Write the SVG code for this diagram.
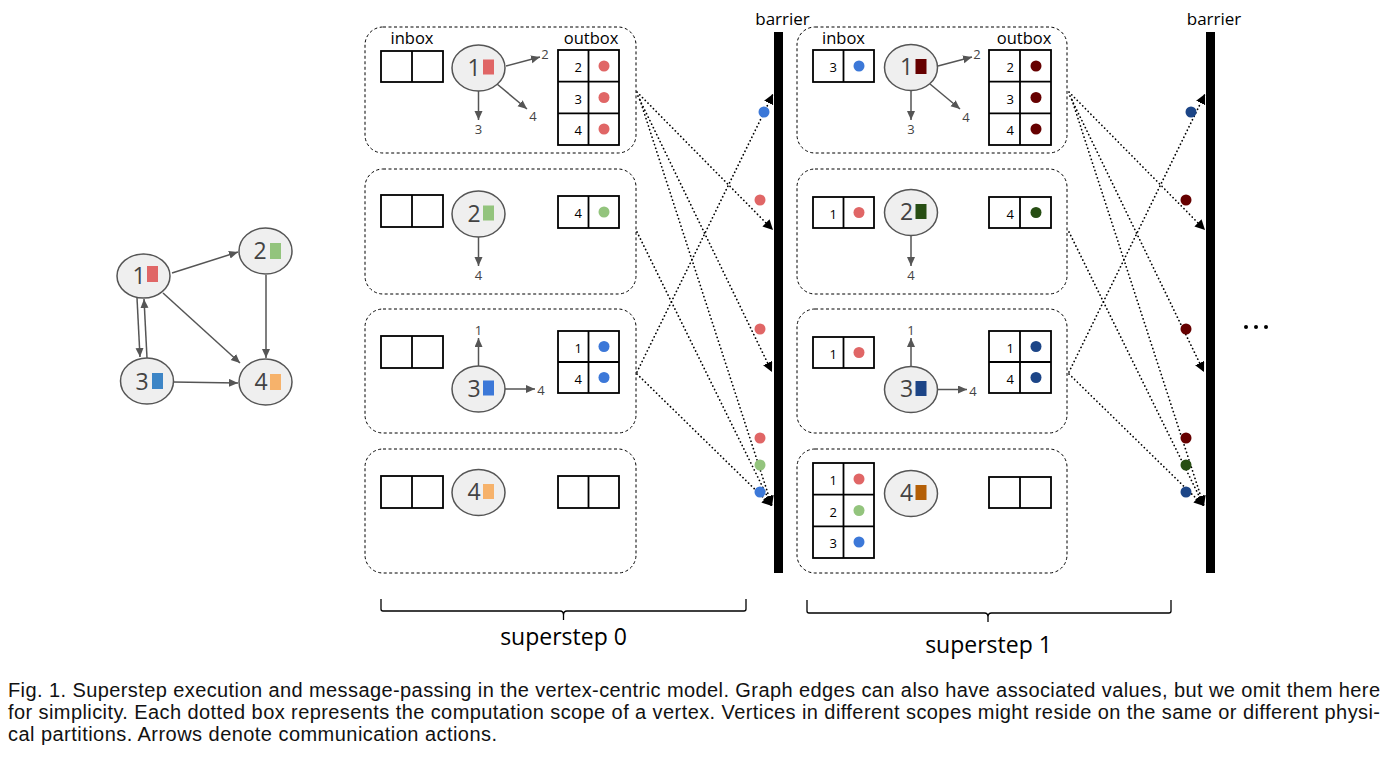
<svg xmlns="http://www.w3.org/2000/svg" width="1388" height="761" viewBox="0 0 1388 761">
<style>
.scope{fill:none;stroke:#000;stroke-width:1;stroke-dasharray:3 2.5}
.cell{fill:#fff;stroke:#000;stroke-width:1.8}
.div{stroke:#000;stroke-width:1.8}
.v{fill:#efefef;stroke:#555;stroke-width:1.5}
.vt{font-family:"Open Sans",sans-serif;font-size:23px;fill:#434343;text-anchor:middle}
.lbl{font-family:"Open Sans",sans-serif;font-size:16.5px;fill:#000;text-anchor:middle}
.sm{font-family:"Open Sans",sans-serif;font-size:13px;fill:#444;text-anchor:middle}
.num{font-family:"Open Sans",sans-serif;font-size:13px;fill:#000;text-anchor:end}
.edge{stroke:#555;stroke-width:1.5;fill:none;marker-end:url(#ga)}
.msg{stroke:#000;stroke-width:1.7;fill:none;stroke-dasharray:0.1 3.8;stroke-linecap:round;marker-end:url(#ba)}
.brace{stroke:#000;stroke-width:1.3;fill:none}
.cap{font-family:"Liberation Sans",Arial,sans-serif;font-size:20px;fill:#111}
.big{font-family:"Open Sans",sans-serif;font-size:23px;fill:#000;text-anchor:middle}
</style>
<defs>
<marker id="ga" markerUnits="userSpaceOnUse" markerWidth="10" markerHeight="10" refX="9" refY="4" orient="auto"><path d="M0,0 L9,4 L0,8 Z" fill="#555"/></marker>
<marker id="ba" markerUnits="userSpaceOnUse" markerWidth="12" markerHeight="12" refX="10" refY="5" orient="auto"><path d="M0,0 L10,5 L0,10 Z" fill="#000"/></marker>
</defs>
<rect width="1388" height="761" fill="#fff"/>

<!-- left graph -->
<g id="graph-edges">
<line class="edge" x1="172" y1="273" x2="238" y2="252"/>
<line class="edge" x1="266" y1="275" x2="266" y2="358"/>
<line class="edge" x1="163" y1="293" x2="240" y2="363"/>
<line class="edge" x1="137" y1="298" x2="140" y2="357"/>
<line class="edge" x1="147" y1="358" x2="144" y2="299"/>
<line class="edge" x1="173" y1="382" x2="238" y2="383"/>
</g>
<g id="g-n1"><ellipse class="v" cx="143.5" cy="276" rx="26.5" ry="22"/><text class="vt" x="139" y="284">1</text><rect x="147" y="266" width="11" height="16" fill="#e06666"/></g>
<g id="g-n2"><ellipse class="v" cx="265.5" cy="251" rx="26.5" ry="23"/><text class="vt" x="260" y="259">2</text><rect x="270" y="243" width="11" height="16" fill="#93c47d"/></g>
<g id="g-n3"><ellipse class="v" cx="147" cy="381" rx="26.5" ry="23"/><text class="vt" x="142" y="390">3</text><rect x="152" y="373" width="11" height="16" fill="#3d85c6"/></g>
<g id="g-n4"><ellipse class="v" cx="265.5" cy="382" rx="26.5" ry="23"/><text class="vt" x="261" y="390">4</text><rect x="270" y="374" width="11" height="16" fill="#f6b26b"/></g>

<!-- superstep 0 -->
<g id="s0-v1">
<rect class="scope" x="365" y="27" width="271" height="126" rx="18"/>
<text class="lbl" x="412" y="44">inbox</text><text class="lbl" x="591" y="44">outbox</text>
<rect class="cell" x="381" y="51" width="62" height="31"/><line class="div" x1="412" y1="51" x2="412" y2="82"/>
<ellipse class="v" cx="478.5" cy="68" rx="26.5" ry="23"/><text class="vt" x="474" y="75.5">1</text><rect x="483" y="59.5" width="11" height="15" fill="#e06666"/>
<line class="edge" x1="506" y1="66" x2="540" y2="57"/><line class="edge" x1="478.5" y1="91" x2="478.5" y2="120"/><line class="edge" x1="497" y1="84" x2="527" y2="109"/>
<text class="sm" x="545" y="59">2</text><text class="sm" x="478.5" y="134">3</text><text class="sm" x="533" y="121">4</text>
<rect class="cell" x="558" y="50" width="61" height="95"/><line class="div" x1="588.5" y1="50" x2="588.5" y2="145"/><line class="div" x1="558" y1="81.7" x2="619" y2="81.7"/><line class="div" x1="558" y1="113.3" x2="619" y2="113.3"/>
<text class="num" x="582" y="72">2</text><text class="num" x="582" y="103.5">3</text><text class="num" x="582" y="135">4</text>
<circle cx="604" cy="66" r="5.5" fill="#e06666"/><circle cx="604" cy="97.5" r="5.5" fill="#e06666"/><circle cx="604" cy="129" r="5.5" fill="#e06666"/>
</g>
<g id="s0-v2">
<rect class="scope" x="365" y="169" width="271" height="125" rx="18"/>
<rect class="cell" x="381" y="195" width="62" height="32"/><line class="div" x1="412" y1="195" x2="412" y2="227"/>
<ellipse class="v" cx="478.5" cy="214" rx="26.5" ry="23"/><text class="vt" x="474" y="221.5">2</text><rect x="483" y="205.5" width="11" height="15" fill="#93c47d"/>
<line class="edge" x1="478.5" y1="237" x2="478.5" y2="266"/><text class="sm" x="478.5" y="280">4</text>
<rect class="cell" x="558" y="196" width="61" height="32"/><line class="div" x1="588.5" y1="196" x2="588.5" y2="228"/>
<text class="num" x="582" y="218">4</text><circle cx="604" cy="212" r="5.5" fill="#93c47d"/>
</g>
<g id="s0-v3">
<rect class="scope" x="365" y="309" width="271" height="124" rx="18"/>
<rect class="cell" x="381" y="336" width="62" height="32"/><line class="div" x1="412" y1="336" x2="412" y2="368"/>
<ellipse class="v" cx="478.5" cy="389" rx="26.5" ry="23"/><text class="vt" x="474" y="396.5">3</text><rect x="483" y="380.5" width="11" height="15" fill="#3c78d8"/>
<line class="edge" x1="478.5" y1="366" x2="478.5" y2="338"/><text class="sm" x="478.5" y="335">1</text>
<line class="edge" x1="505" y1="389" x2="535" y2="389"/><text class="sm" x="541" y="395">4</text>
<rect class="cell" x="558" y="331" width="61" height="62"/><line class="div" x1="588.5" y1="331" x2="588.5" y2="393"/><line class="div" x1="558" y1="362" x2="619" y2="362"/>
<text class="num" x="582" y="352.5">1</text><text class="num" x="582" y="383.5">4</text>
<circle cx="604" cy="346.5" r="5.5" fill="#3c78d8"/><circle cx="604" cy="377.5" r="5.5" fill="#3c78d8"/>
</g>
<g id="s0-v4">
<rect class="scope" x="365" y="449" width="271" height="124" rx="18"/>
<rect class="cell" x="381" y="476" width="62" height="32"/><line class="div" x1="412" y1="476" x2="412" y2="508"/>
<ellipse class="v" cx="478.5" cy="492.5" rx="26.5" ry="23"/><text class="vt" x="474" y="500">4</text><rect x="483" y="484" width="11" height="15" fill="#f6b26b"/>
<rect class="cell" x="558" y="476" width="61" height="32"/><line class="div" x1="588.5" y1="476" x2="588.5" y2="508"/>
</g>

<!-- superstep 1 -->
<g id="s1-v1">
<rect class="scope" x="797" y="27" width="270" height="126" rx="18"/>
<text class="lbl" x="843.5" y="44">inbox</text><text class="lbl" x="1024" y="44">outbox</text>
<rect class="cell" x="813" y="50" width="61" height="32"/><line class="div" x1="843.5" y1="50" x2="843.5" y2="82"/>
<text class="num" x="837" y="72">3</text><circle cx="859" cy="66" r="5.5" fill="#3c78d8"/>
<ellipse class="v" cx="911" cy="67.5" rx="26.5" ry="23"/><text class="vt" x="906.5" y="75">1</text><rect x="915.5" y="59" width="11" height="15" fill="#660000"/>
<line class="edge" x1="938" y1="66" x2="972" y2="57"/><line class="edge" x1="911" y1="91" x2="911" y2="120"/><line class="edge" x1="930" y1="84" x2="960" y2="109"/>
<text class="sm" x="977" y="59">2</text><text class="sm" x="911" y="134">3</text><text class="sm" x="966" y="122">4</text>
<rect class="cell" x="989" y="50" width="62" height="95"/><line class="div" x1="1020" y1="50" x2="1020" y2="145"/><line class="div" x1="989" y1="81.7" x2="1051" y2="81.7"/><line class="div" x1="989" y1="113.3" x2="1051" y2="113.3"/>
<text class="num" x="1014" y="72">2</text><text class="num" x="1014" y="103.5">3</text><text class="num" x="1014" y="135">4</text>
<circle cx="1036" cy="66" r="5.5" fill="#660000"/><circle cx="1036" cy="97.5" r="5.5" fill="#660000"/><circle cx="1036" cy="129" r="5.5" fill="#660000"/>
</g>
<g id="s1-v2">
<rect class="scope" x="797" y="169" width="270" height="125" rx="18"/>
<rect class="cell" x="813" y="197" width="61" height="31"/><line class="div" x1="843.5" y1="197" x2="843.5" y2="228"/>
<text class="num" x="837" y="218.5">1</text><circle cx="859" cy="212.5" r="5.5" fill="#e06666"/>
<ellipse class="v" cx="911" cy="212.5" rx="26.5" ry="23"/><text class="vt" x="906.5" y="220">2</text><rect x="915.5" y="204" width="11" height="15" fill="#274e13"/>
<line class="edge" x1="911" y1="236" x2="911" y2="266"/><text class="sm" x="911" y="280">4</text>
<rect class="cell" x="989" y="197" width="62" height="31"/><line class="div" x1="1020" y1="197" x2="1020" y2="228"/>
<text class="num" x="1014" y="218.5">4</text><circle cx="1036" cy="212.5" r="5.5" fill="#274e13"/>
</g>
<g id="s1-v3">
<rect class="scope" x="797" y="309" width="270" height="124" rx="18"/>
<rect class="cell" x="813" y="337" width="61" height="31"/><line class="div" x1="843.5" y1="337" x2="843.5" y2="368"/>
<text class="num" x="837" y="358.5">1</text><circle cx="859" cy="352.5" r="5.5" fill="#e06666"/>
<ellipse class="v" cx="911" cy="389.5" rx="26.5" ry="23"/><text class="vt" x="906.5" y="397">3</text><rect x="915.5" y="381" width="11" height="15" fill="#1c4587"/>
<line class="edge" x1="911" y1="366" x2="911" y2="338"/><text class="sm" x="911" y="335">1</text>
<line class="edge" x1="937" y1="389.5" x2="967" y2="389.5"/><text class="sm" x="973" y="395.5">4</text>
<rect class="cell" x="989" y="331" width="62" height="62"/><line class="div" x1="1020" y1="331" x2="1020" y2="393"/><line class="div" x1="989" y1="362" x2="1051" y2="362"/>
<text class="num" x="1014" y="352.5">1</text><text class="num" x="1014" y="383.5">4</text>
<circle cx="1036" cy="346.5" r="5.5" fill="#1c4587"/><circle cx="1036" cy="377.5" r="5.5" fill="#1c4587"/>
</g>
<g id="s1-v4">
<rect class="scope" x="797" y="449" width="270" height="124" rx="18"/>
<rect class="cell" x="813" y="463" width="61" height="95"/><line class="div" x1="843.5" y1="463" x2="843.5" y2="558"/><line class="div" x1="813" y1="494.7" x2="874" y2="494.7"/><line class="div" x1="813" y1="526.3" x2="874" y2="526.3"/>
<text class="num" x="837" y="485">1</text><text class="num" x="837" y="516.5">2</text><text class="num" x="837" y="548">3</text>
<circle cx="859" cy="479" r="5.5" fill="#e06666"/><circle cx="859" cy="510.5" r="5.5" fill="#93c47d"/><circle cx="859" cy="542" r="5.5" fill="#3c78d8"/>
<ellipse class="v" cx="911" cy="493.5" rx="26.5" ry="23"/><text class="vt" x="906.5" y="501">4</text><rect x="915.5" y="485" width="11" height="15" fill="#b45f06"/>
<rect class="cell" x="989" y="477" width="62" height="31"/><line class="div" x1="1020" y1="477" x2="1020" y2="508"/>
</g>

<!-- barriers -->
<g id="barrier-0"><text class="lbl" x="782.5" y="25" style="font-size:17px">barrier</text><rect x="774" y="32" width="9" height="541" fill="#000"/></g>
<g id="barrier-1"><text class="lbl" x="1214" y="25" style="font-size:17px">barrier</text><rect x="1206" y="32" width="9" height="541" fill="#000"/></g>

<!-- message connectors -->
<g id="connectors">
<line class="msg" x1="637" y1="92" x2="773" y2="230"/>
<line class="msg" x1="638" y1="96" x2="772" y2="372"/>
<line class="msg" x1="640" y1="100" x2="772" y2="506"/>
<line class="msg" x1="637" y1="232" x2="772" y2="506"/>
<line class="msg" x1="637" y1="372" x2="773" y2="94"/>
<line class="msg" x1="637" y1="374" x2="772" y2="506"/>
<line class="msg" x1="1069" y1="92" x2="1205" y2="230"/>
<line class="msg" x1="1070" y1="96" x2="1204" y2="372"/>
<line class="msg" x1="1072" y1="100" x2="1204" y2="506"/>
<line class="msg" x1="1069" y1="232" x2="1204" y2="506"/>
<line class="msg" x1="1069" y1="372" x2="1205" y2="94"/>
<line class="msg" x1="1069" y1="374" x2="1204" y2="506"/>
</g>
<g id="messages">
<circle cx="764" cy="112" r="5.5" fill="#3c78d8"/>
<circle cx="760" cy="200" r="5.5" fill="#e06666"/>
<circle cx="760" cy="329" r="5.5" fill="#e06666"/>
<circle cx="760" cy="438" r="5.5" fill="#e06666"/>
<circle cx="760" cy="465" r="5.5" fill="#93c47d"/>
<circle cx="760" cy="492" r="5.5" fill="#3c78d8"/>
<circle cx="1191" cy="112" r="5.5" fill="#1c4587"/>
<circle cx="1186" cy="200" r="5.5" fill="#660000"/>
<circle cx="1186" cy="329" r="5.5" fill="#660000"/>
<circle cx="1186" cy="438" r="5.5" fill="#660000"/>
<circle cx="1186" cy="465" r="5.5" fill="#274e13"/>
<circle cx="1186" cy="492" r="5.5" fill="#1c4587"/>
</g>
<g id="ellipsis"><circle cx="1246" cy="327" r="2" fill="#000"/><circle cx="1256" cy="327" r="2" fill="#000"/><circle cx="1266" cy="327" r="2" fill="#000"/></g>

<!-- braces -->
<g id="brace-0"><path class="brace" d="M381,599 V609 Q381,611 383,611 H560 Q563.5,611 563.5,615 V620 M563.5,615 Q563.5,611 567,611 H744 Q746,611 746,609 V599"/><text class="big" x="563.5" y="645">superstep 0</text></g>
<g id="brace-1"><path class="brace" d="M807,600 V611 Q807,613 809,613 H984.5 Q988,613 988,617 V622 M988,617 Q988,613 991.5,613 H1169 Q1171,613 1171,611 V600"/><text class="big" x="988.5" y="653">superstep 1</text></g>

<!-- caption -->
<g id="caption">
<text class="cap" x="8" y="697" textLength="1372" lengthAdjust="spacing">Fig. 1. Superstep execution and message-passing in the vertex-centric model. Graph edges can also have associated values, but we omit them here</text>
<text class="cap" x="8" y="719" textLength="1372" lengthAdjust="spacing">for simplicity. Each dotted box represents the computation scope of a vertex. Vertices in different scopes might reside on the same or different physi-</text>
<text class="cap" x="8" y="741" textLength="489" lengthAdjust="spacing">cal partitions. Arrows denote communication actions.</text>
</g>
</svg>
